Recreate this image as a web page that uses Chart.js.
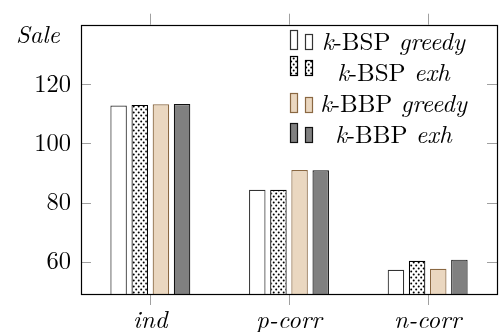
<!DOCTYPE html>
<html>
<head>
<meta charset="utf-8">
<script src="https://cdn.jsdelivr.net/npm/chart.js@4.4.1/dist/chart.umd.min.js"></script>
<style>
  html, body { margin: 0; padding: 0; background: #fff; }
  #wrap { width: 503px; height: 332px; }
</style>
</head>
<body>
<div id="wrap"><canvas id="c" width="503" height="332"></canvas></div>
<script>
// ---- data ----
const categories = ['ind', 'p-corr', 'n-corr'];
const kbspGreedy = [112.8, 84.3, 57.3];
const kbspExh    = [113.0, 84.3, 60.3];
const kbbpGreedy = [113.2, 91.0, 57.6];
const kbbpExh    = [113.3, 90.9, 60.7];
const yTicks = [60, 80, 100, 120];
const yMin = 49.1;
const yMax = 140.1;
const yAxisLabel = 'Sale';
const legendLabels = [
  ['k', '-BSP ', 'greedy'],
  ['k', '-BSP ', 'exh'],
  ['k', '-BBP ', 'greedy'],
  ['k', '-BBP ', 'exh']
];

const SERIF = '"Latin Modern Roman", "Liberation Serif", serif';

function makeDots() {
  const t = document.createElement('canvas');
  t.width = 5; t.height = 6;
  const g = t.getContext('2d');
  g.fillStyle = '#fff';
  g.fillRect(0, 0, 5, 6);
  g.fillStyle = '#000';
  g.beginPath(); g.arc(1.2, 1.5, 1.0, 0, Math.PI * 2); g.fill();
  g.beginPath(); g.arc(3.7, 4.5, 1.0, 0, Math.PI * 2); g.fill();
  const ctx = document.createElement('canvas').getContext('2d');
  return ctx.createPattern(t, 'repeat');
}
const dots = makeDots();

const styles = [
  { bg: '#ffffff', border: '#333333' },
  { bg: dots,      border: '#000000' },
  { bg: '#ead7c0', border: '#8a6842' },
  { bg: '#808080', border: '#111111' }
];
const seriesData = [kbspGreedy, kbspExh, kbbpGreedy, kbbpExh];

const datasets = seriesData.map((d, i) => ({
  label: legendLabels[i].join(''),
  data: d,
  base: yMin,
  backgroundColor: styles[i].bg,
  borderColor: styles[i].border,
  borderWidth: 1.2,
  borderSkipped: 'start',
  categoryPercentage: 0.61,
  barPercentage: 0.78
}));

const decor = {
  id: 'decor',
  afterDatasetsDraw(chart) {
    const { ctx, chartArea: a, scales } = chart;
    const x = scales.x, y = scales.y;
    ctx.save();
    ctx.strokeStyle = '#a0a0a0';
    ctx.lineWidth = 1;
    ctx.beginPath();
    yTicks.forEach(v => {
      const py = Math.round(y.getPixelForValue(v)) + 0.5;
      ctx.moveTo(a.left, py); ctx.lineTo(a.left + 10, py);
      ctx.moveTo(a.right - 10, py); ctx.lineTo(a.right, py);
    });
    categories.forEach((c, i) => {
      const px = Math.round(x.getPixelForValue(i)) + 0.5;
      ctx.moveTo(px, a.bottom); ctx.lineTo(px, a.bottom + 11);
      ctx.moveTo(px, a.top); ctx.lineTo(px, a.top - 11);
    });
    ctx.stroke();
    ctx.strokeStyle = '#000';
    ctx.lineWidth = 1.2;
    ctx.strokeRect(Math.round(a.left) + 0.5, Math.round(a.top) + 0.5,
                   Math.round(a.right - a.left), Math.round(a.bottom - a.top));
    ctx.fillStyle = '#000';
    ctx.font = 'italic 24.5px ' + SERIF;
    ctx.textBaseline = 'alphabetic';
    ctx.textAlign = 'left';
    ctx.fillText(yAxisLabel, 16, 43);

    const baselines = [50, 81, 112, 143];
    const iconBottoms = [50, 76, 113, 143];
    const cx = 393.5;
    chart.data.datasets.forEach((ds, i) => {
      const b = iconBottoms[i];
      ctx.fillStyle = styles[i].bg;
      ctx.strokeStyle = styles[i].border;
      ctx.lineWidth = 1.2;
      ctx.fillRect(290.5, b - 19.5, 7, 19);
      ctx.strokeRect(290.5, b - 19.5, 7, 19);
      ctx.fillRect(305.5, b - 15.5, 7, 15);
      ctx.strokeRect(305.5, b - 15.5, 7, 15);
      const parts = legendLabels[i];
      const fonts = ['italic 25px ' + SERIF, '25px ' + SERIF, 'italic 25px ' + SERIF];
      let w = 0;
      const ws = parts.map((p, k) => { ctx.font = fonts[k]; const m = ctx.measureText(p).width; w += m; return m; });
      let tx = cx - w / 2;
      ctx.fillStyle = '#000';
      ctx.textAlign = 'left';
      parts.forEach((p, k) => {
        ctx.font = fonts[k];
        ctx.fillText(p, tx, baselines[i]);
        tx += ws[k];
      });
    });
    ctx.restore();
  }
};

function build() {
  new Chart(document.getElementById('c'), {
    type: 'bar',
    data: { labels: categories, datasets },
    options: {
      responsive: false,
      animation: false,
      devicePixelRatio: 1,
      layout: { padding: { top: 12, right: 6, left: 0, bottom: 0 } },
      plugins: { legend: { display: false }, tooltip: { enabled: false }, title: { display: false } },
      scales: {
        x: {
          offset: true,
          grid: { display: false, drawTicks: false },
          border: { display: false },
          ticks: { color: '#000', font: { family: SERIF, size: 25, style: 'italic' }, padding: 11, maxRotation: 0 },
          afterFit(s) { s.height = 38; }
        },
        y: {
          min: yMin,
          max: yMax,
          grid: { display: false, drawTicks: false },
          border: { display: false },
          ticks: { color: '#000', font: { family: SERIF, size: 24.5 }, padding: 10 },
          afterBuildTicks(s) { s.ticks = yTicks.map(v => ({ value: v })); },
          afterFit(s) { s.width = 81; }
        }
      }
    },
    plugins: [decor]
  });
}

Promise.all([
  document.fonts.load('24px "Latin Modern Roman"'),
  document.fonts.load('italic 24px "Latin Modern Roman"')
]).then(build, build);
</script>
</body>
</html>
